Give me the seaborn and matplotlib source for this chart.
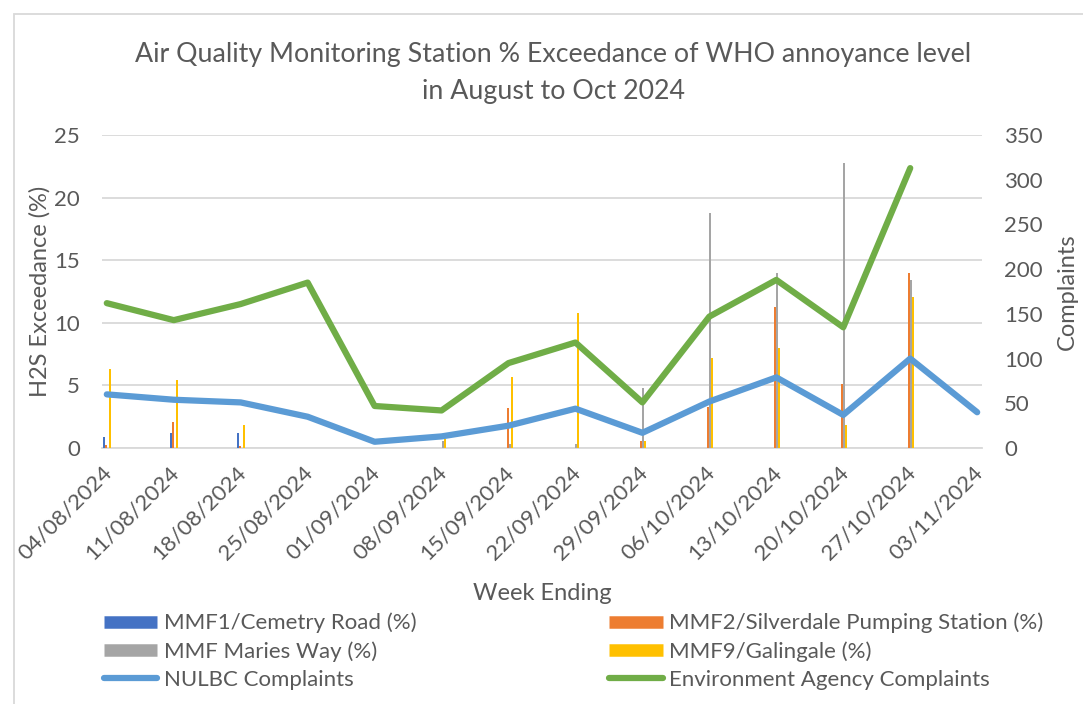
import numpy as np
import pandas as pd
import seaborn as sns
import matplotlib.pyplot as plt
import matplotlib.dates as mdates
from matplotlib.patches import Rectangle
from matplotlib.lines import Line2D

# Данные: недели и значения рядов
weeks = ['04/08/2024', '11/08/2024', '18/08/2024', '25/08/2024', '01/09/2024',
         '08/09/2024', '15/09/2024', '22/09/2024', '29/09/2024', '06/10/2024',
         '13/10/2024', '20/10/2024', '27/10/2024', '03/11/2024']

mmf1 = [0.9, 1.2, 1.2, 0, 0, 0, 0, 0, 0, 0, 0, 0, 0, 0]
mmf2 = [0.25, 2.1, 0.2, 0, 0, 0, 3.2, 0, 0.55, 3.3, 11.3, 5.1, 14.0, 0]
mmf_maries = [0, 0, 0, 0, 0, 0.55, 0.3, 0.3, 4.8, 18.8, 14.0, 22.8, 13.4, 0]
mmf9 = [6.3, 5.4, 1.8, 0, 0, 0.7, 5.7, 10.8, 0.55, 7.2, 8.0, 1.8, 12.1, 0]

nulbc = [60, 54, 51, 35, 7, 13, 25, 44, 17, 52, 79, 37, 100, 40]
ea = [162, 143, 161, 185, 47, 42, 95, 118, 51, 147, 188, 135, 313, np.nan]

bar_series = ['MMF1/Cemetry Road (%)', 'MMF2/Silverdale Pumping Station (%)',
              'MMF Maries Way (%)', 'MMF9/Galingale (%)']
bar_colors = ['#4472C4', '#ED7D31', '#A5A5A5', '#FFC000']
line_colors = {'NULBC Complaints': '#5B9BD5', 'Environment Agency Complaints': '#70AD47'}

txt = '#595959'
grid = '#D9D9D9'
fs = 16

sns.set_style('white')
plt.rcParams['font.family'] = ['Lato', 'DejaVu Sans']

dates = pd.to_datetime(weeks, format='%d/%m/%Y')
xnum = mdates.date2num(dates)

fig = plt.figure(figsize=(10.83, 7.04), dpi=100)
ax = fig.add_axes([0.0942, 0.3636, 0.8125, 0.4446])

# Столбцы (узкие, по дням на оси дат)
bw = 0.21
for i, (vals, col) in enumerate(zip([mmf1, mmf2, mmf_maries, mmf9], bar_colors)):
    ax.bar(xnum + 0.5 + (i - 1.5) * bw, vals, width=bw, color=col, linewidth=0, zorder=3)

ax.set_ylim(0, 25)
ax.set_yticks(range(0, 26, 5))
ax.set_xlim(xnum[0], xnum[-1] + 1)
ax.set_xticks(xnum)
ax.set_xticklabels(weeks, rotation=45, ha='right', rotation_mode='anchor')
ax.yaxis.grid(True, color=grid, linewidth=1.3, zorder=0)
ax.set_axisbelow(True)
for s in ['top', 'right', 'left']:
    ax.spines[s].set_visible(False)
ax.spines['bottom'].set_color(grid)
ax.spines['bottom'].set_linewidth(1.3)
ax.tick_params(axis='x', colors=txt, labelsize=fs, length=6, width=1.3, color=grid, pad=4)
ax.tick_params(axis='y', colors=txt, labelsize=fs, length=0, pad=16)
ax.set_ylabel('H2S Exceedance (%)', color=txt, fontsize=fs + 1, va='center')
ax.yaxis.set_label_coords(-0.0705, 0.5)
ax.set_xlabel('Week Ending', color=txt, fontsize=fs + 1, va='center')
ax.xaxis.set_label_coords(0.5, -0.465)

# Линии на правой оси
ax2 = ax.twinx()
df_lines = pd.DataFrame({
    'x': np.concatenate([xnum + 0.5, xnum + 0.5]),
    'value': nulbc + ea,
    'series': ['NULBC Complaints'] * len(weeks) + ['Environment Agency Complaints'] * len(weeks),
})
sns.lineplot(data=df_lines, x='x', y='value', hue='series', palette=line_colors,
             linewidth=4.5, ax=ax2, legend=False, solid_capstyle='round')
ax2.set_ylim(0, 350)
ax2.set_yticks(range(0, 351, 50))
ax2.set_xlim(xnum[0], xnum[-1] + 1)
for s in ax2.spines.values():
    s.set_visible(False)
ax2.tick_params(axis='y', colors=txt, labelsize=fs, length=0, pad=16)
ax2.set_ylabel('Complaints', color=txt, fontsize=fs + 1, va='center', rotation=90)
ax2.yaxis.set_label_coords(1.0966, 0.5)
ax2.set_xlabel('')

fig.text(0.511, 0.922, 'Air Quality Monitoring Station % Exceedance of WHO annoyance level',
         ha='center', va='center', fontsize=19.3, color=txt)
fig.text(0.511, 0.87, 'in August to Oct 2024', ha='center', va='center', fontsize=19.3, color=txt)

# Легенда в две колонки
def bar_handle(c):
    return Line2D([0], [0], color=c, linewidth=9, solid_capstyle='butt')

def line_handle(c):
    return Line2D([0], [0], color=c, linewidth=4.5, solid_capstyle='round')

left_h = [bar_handle(bar_colors[0]), bar_handle(bar_colors[2]), line_handle(line_colors['NULBC Complaints'])]
left_l = [bar_series[0], bar_series[2], 'NULBC Complaints']
right_h = [bar_handle(bar_colors[1]), bar_handle(bar_colors[3]),
           line_handle(line_colors['Environment Agency Complaints'])]
right_l = [bar_series[1], bar_series[3], 'Environment Agency Complaints']

leg_kw = dict(frameon=False, fontsize=fs, labelcolor=txt, handlelength=2.4,
              handletextpad=0.3, labelspacing=0.35, borderpad=0, borderaxespad=0)
fig.legend(left_h, left_l, loc='upper left', bbox_to_anchor=(0.096, 0.1295), **leg_kw)
fig.legend(right_h, right_l, loc='upper left', bbox_to_anchor=(0.5625, 0.1295), **leg_kw)

# Рамка области диаграммы
fig.patches.append(Rectangle((0.013, -0.5), 2, 1.48, transform=fig.transFigure,
                             fill=False, edgecolor='#D9D9D9', linewidth=1.3))

fig.savefig('out.png', dpi=100)
